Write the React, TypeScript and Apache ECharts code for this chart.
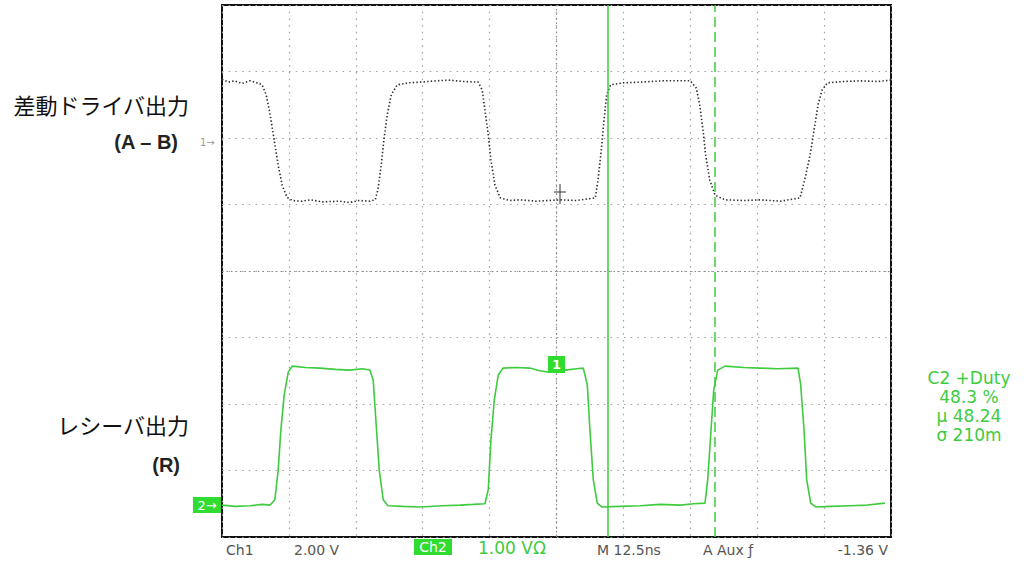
import React, { useEffect, useRef } from "react";
import * as echarts from "echarts";

// Screen divisions: x 0..10, y 0..8 (oscilloscope graticule)
const xDivisions = [0, 10];
const yDivisions = [0, 8];
const centerX = 5;
const centerY = 4;

// CH1: differential driver output (A - B), black dotted trace
const ch1Trace: [number, number][] = [
  [0, 6.88], [0.1, 6.84], [0.19, 6.86], [0.3, 6.82], [0.42, 6.86], [0.52, 6.83], [0.6, 6.8],
  [0.66, 6.65], [0.72, 6.35], [0.78, 5.97], [0.84, 5.59], [0.9, 5.29], [0.97, 5.11],
  [1.05, 5.06], [1.2, 5.05], [1.32, 5.07], [1.5, 5.04], [1.76, 5.05], [1.9, 5.03],
  [2.05, 5.06], [2.2, 5.05], [2.29, 5.07], [2.33, 5.22], [2.38, 5.59], [2.42, 5.97],
  [2.47, 6.35], [2.53, 6.65], [2.62, 6.8], [2.8, 6.83], [2.96, 6.84], [3.2, 6.86],
  [3.41, 6.87], [3.6, 6.85], [3.83, 6.84], [3.89, 6.72], [3.93, 6.42], [3.98, 6.05],
  [4.02, 5.67], [4.08, 5.29], [4.16, 5.1], [4.3, 5.06], [4.45, 5.07], [4.7, 5.05],
  [5.05, 5.07], [5.3, 5.06], [5.58, 5.1], [5.62, 5.37], [5.67, 5.82], [5.71, 6.27],
  [5.75, 6.65], [5.81, 6.8], [6.0, 6.83], [6.25, 6.84], [6.6, 6.86], [7.0, 6.86],
  [7.09, 6.75], [7.14, 6.5], [7.19, 6.12], [7.23, 5.74], [7.29, 5.37], [7.37, 5.14],
  [7.52, 5.07], [7.8, 5.06], [8.04, 5.07], [8.35, 5.05], [8.64, 5.1], [8.71, 5.37],
  [8.79, 5.74], [8.85, 6.12], [8.91, 6.5], [8.97, 6.72], [9.05, 6.83], [9.3, 6.85],
  [9.54, 6.86], [9.8, 6.85], [9.99, 6.87],
];

// CH2: receiver output (R), green trace
const ch2Trace: [number, number][] = [
  [0, 0.48], [0.2, 0.46], [0.42, 0.47], [0.6, 0.49], [0.72, 0.48], [0.79, 0.56],
  [0.84, 1.01], [0.88, 1.61], [0.93, 2.14], [0.99, 2.48], [1.05, 2.57], [1.25, 2.55],
  [1.46, 2.54], [1.7, 2.52], [1.91, 2.51], [2.1, 2.53], [2.21, 2.51], [2.26, 2.36],
  [2.3, 1.76], [2.35, 1.01], [2.41, 0.56], [2.48, 0.47], [2.7, 0.46], [2.96, 0.45],
  [3.3, 0.47], [3.56, 0.48], [3.75, 0.49], [3.93, 0.5], [3.98, 0.71], [4.02, 1.46],
  [4.07, 2.06], [4.13, 2.44], [4.2, 2.54], [4.4, 2.55], [4.6, 2.54], [4.75, 2.5],
  [4.87, 2.48], [5.0, 2.52], [5.13, 2.51], [5.3, 2.53], [5.4, 2.54], [5.46, 2.29],
  [5.5, 1.61], [5.55, 0.86], [5.61, 0.51], [5.68, 0.45], [5.95, 0.46], [6.25, 0.47],
  [6.55, 0.49], [6.85, 0.48], [7.05, 0.5], [7.22, 0.51], [7.26, 0.86], [7.31, 1.61],
  [7.35, 2.21], [7.41, 2.51], [7.52, 2.57], [7.8, 2.55], [8.04, 2.54], [8.3, 2.53],
  [8.61, 2.54], [8.65, 2.29], [8.7, 1.61], [8.74, 0.86], [8.8, 0.51], [8.88, 0.45],
  [9.1, 0.46], [9.39, 0.47], [9.65, 0.48], [9.91, 0.51],
];

// Cursor positions (divisions)
const cursorSolidX = 5.77;
const cursorDashedX = 7.37;

// Texts
const driverLabel = "差動ドライバ出力";
const driverSub = "(A – B)";
const receiverLabel = "レシーバ出力";
const receiverSub = "(R)";
const measureLines = ["C2 +Duty", "48.3 %", "µ 48.24", "σ 210m"];
const readoutCh1 = ["Ch1", "2.00 V"];
const readoutCh2 = ["Ch2", "1.00 VΩ"];
const readoutTime = ["M 12.5ns", "A Aux ƒ", "-1.36 V"];

const GREEN = "#3ecb3e";
const BOX_GREEN = "#2fdc2f";
const GREY = "#555";

export default function App() {
  const ref = useRef<HTMLDivElement>(null);

  useEffect(() => {
    if (!ref.current) return;
    const chart = echarts.init(ref.current, null, { renderer: "svg" });
    const sansJP = "'Noto Sans CJK JP', 'Noto Sans', sans-serif";
    const scope = "'DejaVu Sans', sans-serif";

    const graphic: any[] = [
      // left labels
      { type: "text", style: { text: driverLabel, x: 189, y: 104, align: "right", verticalAlign: "middle", font: `22px ${sansJP}`, fill: "#111" } },
      { type: "text", style: { text: driverSub, x: 178, y: 142, align: "right", verticalAlign: "middle", font: `bold 20px 'Liberation Sans', Arial, sans-serif`, fill: "#222" } },
      { type: "text", style: { text: receiverLabel, x: 189, y: 424, align: "right", verticalAlign: "middle", font: `22px ${sansJP}`, fill: "#111" } },
      { type: "text", style: { text: receiverSub, x: 180, y: 465, align: "right", verticalAlign: "middle", font: `bold 20px 'Liberation Sans', Arial, sans-serif`, fill: "#222" } },
      // ch1 faint marker
      { type: "text", style: { text: "1→", x: 200, y: 142, align: "left", verticalAlign: "middle", font: `10px ${scope}`, fill: "#999" } },
      // ch2 marker
      { type: "rect", z: 100, shape: { x: 193, y: 497, width: 28, height: 16 }, style: { fill: BOX_GREEN } },
      { type: "text", z: 101, style: { text: "2→", x: 207, y: 505, align: "center", verticalAlign: "middle", font: `13px ${scope}`, fill: "#fff" } },
      // trigger marker box on ch2
      { type: "rect", z: 100, shape: { x: 548, y: 356, width: 17, height: 17 }, style: { fill: BOX_GREEN } },
      { type: "text", z: 101, style: { text: "1", x: 556.5, y: 364.5, align: "center", verticalAlign: "middle", font: `bold 13px ${scope}`, fill: "#fff" } },
      // trigger cross on ch1
      { type: "line", shape: { x1: 560, y1: 184, x2: 560, y2: 204 }, style: { stroke: "#333", lineWidth: 1 } },
      { type: "line", shape: { x1: 554, y1: 192, x2: 566, y2: 192 }, style: { stroke: "#333", lineWidth: 1 } },
      // bottom readouts
      { type: "text", style: { text: readoutCh1[0], x: 226, y: 550, align: "left", verticalAlign: "middle", font: `14px ${scope}`, fill: GREY } },
      { type: "text", style: { text: readoutCh1[1], x: 294, y: 550, align: "left", verticalAlign: "middle", font: `14px ${scope}`, fill: GREY } },
      { type: "rect", z: 100, shape: { x: 414, y: 539, width: 38, height: 16 }, style: { fill: BOX_GREEN } },
      { type: "text", z: 101, style: { text: readoutCh2[0], x: 433, y: 547, align: "center", verticalAlign: "middle", font: `14px ${scope}`, fill: "#fff" } },
      { type: "text", style: { text: readoutCh2[1], x: 478, y: 548, align: "left", verticalAlign: "middle", font: `17px ${scope}`, fill: GREEN } },
      { type: "text", style: { text: readoutTime[0], x: 597, y: 550, align: "left", verticalAlign: "middle", font: `14px ${scope}`, fill: GREY } },
      { type: "text", style: { text: readoutTime[1], x: 703, y: 550, align: "left", verticalAlign: "middle", font: `14px ${scope}`, fill: GREY } },
      { type: "text", style: { text: readoutTime[2], x: 888, y: 550, align: "right", verticalAlign: "middle", font: `14px ${scope}`, fill: GREY } },
    ];
    measureLines.forEach((t, i) => {
      graphic.push({
        type: "text",
        style: { text: t, x: 969, y: 378 + i * 19, align: "center", verticalAlign: "middle", font: `17px ${scope}`, fill: GREEN },
      });
    });

    const gridDots = { color: "#a0a0a0", width: 1.2, type: [1.5, 5.2] };

    chart.setOption({
      animation: false,
      backgroundColor: "#fff",
      grid: {
        left: 222, top: 5, width: 669, height: 532,
        show: true, borderColor: "#111", borderWidth: 2, backgroundColor: "transparent",
        outerBoundsMode: "none",
      },
      xAxis: {
        type: "value", min: xDivisions[0], max: xDivisions[1], interval: 1,
        axisLine: { show: false }, axisTick: { show: false }, axisLabel: { show: false },
        splitLine: { show: true, lineStyle: gridDots },
      },
      yAxis: {
        type: "value", min: yDivisions[0], max: yDivisions[1], interval: 1,
        axisLine: { show: false }, axisTick: { show: false }, axisLabel: { show: false },
        splitLine: { show: true, lineStyle: gridDots },
      },
      series: [
        {
          type: "line", name: "CH1", data: ch1Trace, showSymbol: false, symbol: "none",
          lineStyle: { color: "#2a2a2a", width: 1.6, type: [1.4, 2.2] },
          z: 3,
          markLine: {
            silent: true, symbol: "none", label: { show: false },
            lineStyle: { color: "#8a8a8a", width: 1.2, type: [1.5, 3] },
            data: [{ xAxis: centerX }, { yAxis: centerY }],
          },
        },
        {
          type: "line", name: "CH2", data: ch2Trace, showSymbol: false, symbol: "none",
          lineStyle: { color: GREEN, width: 1.6 },
          z: 4,
          markLine: {
            silent: true, symbol: "none", label: { show: false },
            data: [
              { xAxis: cursorSolidX, lineStyle: { color: GREEN, width: 1.5, type: "solid" } },
              { xAxis: cursorDashedX, lineStyle: { color: GREEN, width: 1.5, type: [10, 5] } },
            ],
          },
        },
      ],
      graphic,
    });
    return () => chart.dispose();
  }, []);

  return (
    <div
      ref={ref}
      style={{ position: "fixed", left: 0, top: 0, width: 1029, height: 562, background: "#fff" }}
    />
  );
}
